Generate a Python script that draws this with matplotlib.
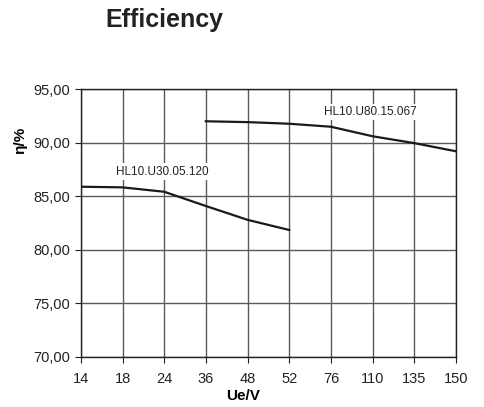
import matplotlib
matplotlib.use("Agg")
import matplotlib.pyplot as plt

plt.rcParams["font.family"] = ["Liberation Sans", "DejaVu Sans"]

voltages = ["14", "18", "24", "36", "48", "52", "76", "110", "135", "150"]
eff_u30 = [85.89, 85.83, 85.42, 84.09, 82.8, 81.85]
eff_u80 = [92.0, 91.92, 91.77, 91.49, 90.6, 89.96, 89.2]
y_ticks = [70, 75, 80, 85, 90, 95]

fig = plt.figure(figsize=(4.84, 4.07), dpi=100)
ax = fig.add_axes([0.167, 0.123, 0.775, 0.658])

x_u30 = list(range(0, 6))
x_u80 = list(range(3, 10))
ax.plot(x_u30, eff_u30, color="#1a1a1a", linewidth=1.6, zorder=3)
ax.plot(x_u80, eff_u80, color="#1a1a1a", linewidth=1.6, zorder=3)

ax.set_xlim(0, len(voltages) - 1)
ax.set_ylim(70, 95)
ax.set_xticks(range(len(voltages)))
ax.set_xticklabels(voltages)
ax.set_yticks(y_ticks)
ax.set_yticklabels([f"{v:.2f}".replace(".", ",") for v in y_ticks])
ax.tick_params(direction="out", length=4, labelsize=10.5, colors="#222222")
ax.tick_params(axis="x", pad=7)
ax.grid(True, color="#5a5a5a", linewidth=1.0)
ax.set_axisbelow(True)
for s in ax.spines.values():
    s.set_color("#222222")
    s.set_linewidth(1.0)

ax.text(1.95, 87.3, "HL10.U30.05.120", fontsize=8.5, ha="center", va="center",
        color="#222222", bbox=dict(facecolor="white", edgecolor="none", pad=1.5), zorder=4)
ax.text(6.95, 92.9, "HL10.U80.15.067", fontsize=8.5, ha="center", va="center",
        color="#222222", bbox=dict(facecolor="white", edgecolor="none", pad=1.5), zorder=4)

ax.set_xlabel("Ue/V", fontsize=11, fontweight="bold", va="center")
ax.xaxis.set_label_coords(0.432, -0.146)
ax.set_ylabel("η/%", fontsize=11, fontweight="bold")
ax.yaxis.set_label_coords(-0.142, 0.81)
fig.text(0.34, 0.95, "Efficiency", fontsize=18, fontweight="bold", ha="center", va="center",
         color="#222222")

fig.savefig("out.png", dpi=100)
